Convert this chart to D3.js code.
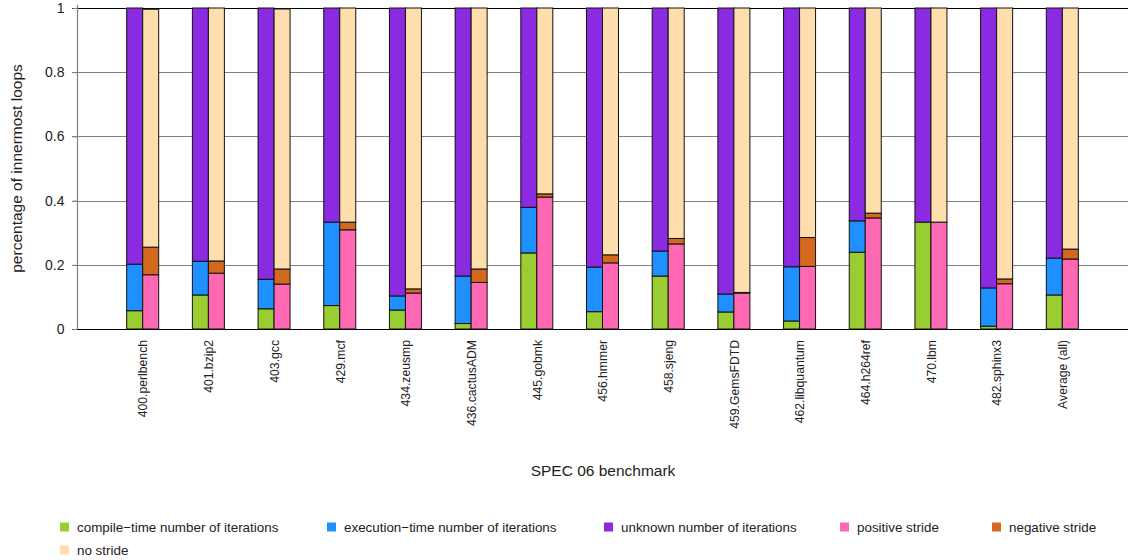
<!DOCTYPE html>
<html>
<head>
<meta charset="utf-8">
<script src="https://cdn.jsdelivr.net/npm/d3@7"></script>
<style>
  html, body { margin: 0; padding: 0; background: #fff; }
  svg { display: block; font-family: "Liberation Sans", Arial, Helvetica, sans-serif; }
</style>
</head>
<body>
<svg id="chart" width="1128" height="560"></svg>
<script>
// Benchmarks on the x axis
const benchmarks = ["400.perlbench", "401.bzip2", "403.gcc", "429.mcf", "434.zeusmp",
  "436.cactusADM", "445.gobmk", "456.hmmer", "458.sjeng", "459.GemsFDTD",
  "462.libquantum", "464.h264ref", "470.lbm", "482.sphinx3", "Average (all)"];

// Left bar: how the trip count of each innermost loop is known
const compileTime   = [0.057, 0.106, 0.063, 0.073, 0.059, 0.017, 0.237, 0.054, 0.165, 0.053, 0.025, 0.239, 0.333, 0.009, 0.106];
const executionTime = [0.145, 0.105, 0.092, 0.260, 0.044, 0.148, 0.142, 0.139, 0.078, 0.056, 0.169, 0.098, 0.000, 0.119, 0.115];
const unknownIters  = [0.798, 0.789, 0.845, 0.667, 0.897, 0.835, 0.621, 0.807, 0.757, 0.891, 0.806, 0.663, 0.667, 0.872, 0.779];

// Right bar: stride of the loop
const positiveStride = [0.169, 0.174, 0.140, 0.309, 0.112, 0.145, 0.411, 0.206, 0.265, 0.112, 0.195, 0.346, 0.333, 0.141, 0.218];
const negativeStride = [0.086, 0.038, 0.047, 0.024, 0.013, 0.042, 0.010, 0.025, 0.017, 0.002, 0.090, 0.015, 0.000, 0.015, 0.031];
const noStride       = [0.741, 0.788, 0.810, 0.667, 0.875, 0.813, 0.579, 0.769, 0.718, 0.886, 0.715, 0.639, 0.667, 0.844, 0.751];

const seriesNames = ["compile\u2212time number of iterations", "execution\u2212time number of iterations",
  "unknown number of iterations", "positive stride", "negative stride", "no stride"];
const seriesColors = ["#9acd32", "#1e90ff", "#8a2be2", "#ff69b4", "#d2691e", "#ffdead"];

const yTicks = [0, 0.2, 0.4, 0.6, 0.8, 1];

const svg = d3.select("#chart");
const plot = { left: 77, right: 1128, top: 8, bottom: 329 };
const barW = 16;

const x = d3.scaleLinear().domain([0, benchmarks.length + 1]).range([plot.left, plot.right]);
const y = d3.scaleLinear().domain([0, 1]).range([plot.bottom, plot.top]);

// Horizontal grid lines
svg.append("g").selectAll("line").data(yTicks).join("line")
  .attr("x1", plot.left - 5).attr("x2", plot.right)
  .attr("y1", d => Math.round(y(d)) + 0.5).attr("y2", d => Math.round(y(d)) + 0.5)
  .attr("stroke", d => (d === 0 || d === 1) ? "#000" : "#808080")
  .attr("stroke-width", 1.2);

// Y axis
const yAxis = svg.append("g")
  .attr("transform", `translate(${plot.left + 0.5},0)`)
  .call(d3.axisLeft(y).tickValues(yTicks).tickSize(5).tickFormat(d3.format("~g")));
yAxis.select(".domain").remove();
yAxis.selectAll(".tick line").attr("stroke", "#808080");
yAxis.selectAll(".tick text").attr("x", -13).attr("font-size", 14).attr("fill", "#222")
  .style("font-family", "inherit");
svg.append("line")
  .attr("x1", plot.left + 0.5).attr("x2", plot.left + 0.5)
  .attr("y1", plot.top - 3).attr("y2", plot.bottom)
  .attr("stroke", "#808080").attr("stroke-width", 1.2);

// Build one stacked table per bar
const rows = benchmarks.map((b, i) => ({
  name: b, i,
  s0: compileTime[i], s1: executionTime[i], s2: unknownIters[i],
  s3: positiveStride[i], s4: negativeStride[i], s5: noStride[i]
}));
const leftStack = d3.stack().keys(["s0", "s1", "s2"])(rows);
const rightStack = d3.stack().keys(["s3", "s4", "s5"])(rows);

function drawStack(stack, colorOffset, dx) {
  svg.append("g").selectAll("g").data(stack).join("g")
    .attr("fill", (d, k) => seriesColors[colorOffset + k])
    .selectAll("rect").data(d => d).join("rect")
      .attr("x", d => x(d.data.i + 1) + dx)
      .attr("width", barW)
      .attr("y", d => y(d[1]))
      .attr("height", d => y(d[0]) - y(d[1]))
      .attr("stroke", "#111")
      .attr("stroke-width", 1);
}
drawStack(leftStack, 0, -barW);
drawStack(rightStack, 3, 0);

// X axis labels (rotated)
const xAxis = svg.append("g")
  .attr("transform", `translate(0,${plot.bottom})`)
  .call(d3.axisBottom(x).tickValues(benchmarks.map((b, i) => i + 1))
    .tickFormat(v => benchmarks[v - 1]).tickSize(0));
xAxis.select(".domain").remove();
xAxis.selectAll(".tick text")
  .attr("transform", "rotate(-90)")
  .attr("text-anchor", "end")
  .attr("x", -11).attr("y", 0).attr("dy", "0.35em")
  .attr("font-size", 12.2).attr("fill", "#222")
  .style("font-family", "inherit");

// Axis titles
svg.append("text")
  .attr("x", 603).attr("y", 476)
  .attr("text-anchor", "middle").attr("font-size", 15.5).attr("fill", "#222")
  .text("SPEC 06 benchmark");
svg.append("text")
  .attr("transform", `translate(22,${(plot.top + plot.bottom) / 2}) rotate(-90)`)
  .attr("text-anchor", "middle").attr("font-size", 15.5).attr("fill", "#222")
  .text("percentage of innermost loops");

// Legend
const legendPos = [[60, 527], [327, 527], [604, 527], [840, 527], [992, 527], [60, 550]];
const legend = svg.append("g").selectAll("g").data(seriesNames).join("g")
  .attr("transform", (d, k) => `translate(${legendPos[k][0]},${legendPos[k][1]})`);
legend.append("rect")
  .attr("x", 0).attr("y", -4.5).attr("width", 9).attr("height", 9)
  .attr("fill", (d, k) => seriesColors[k]);
legend.append("text")
  .attr("x", 17).attr("y", 0).attr("dy", "0.35em")
  .attr("font-size", 13.4).attr("fill", "#222")
  .text(d => d);
</script>
</body>
</html>
